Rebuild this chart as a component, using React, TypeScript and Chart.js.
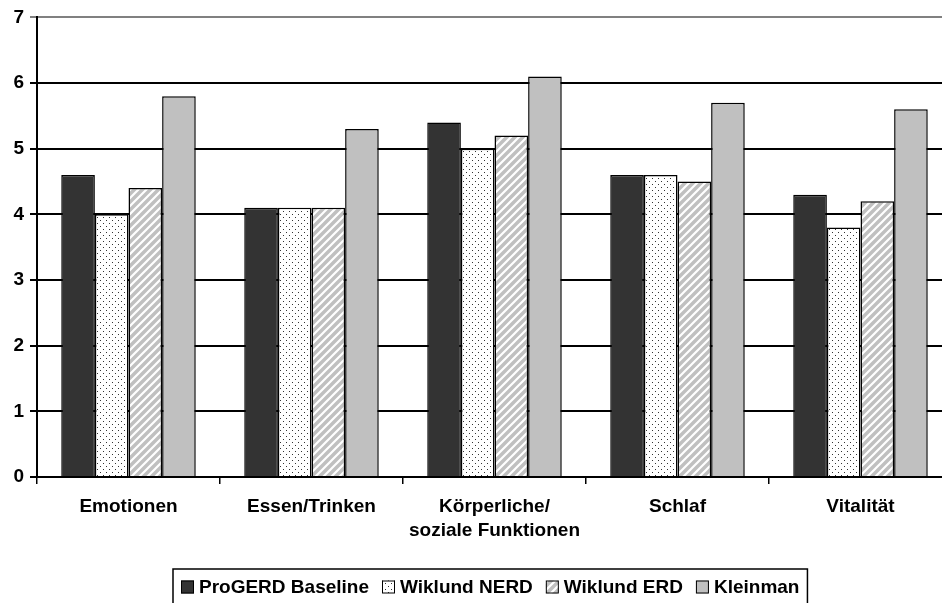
import React, { useEffect, useRef } from "react";
import { Chart, registerables } from "chart.js";

Chart.register(...registerables);

const categories: (string | string[])[] = [
  "Emotionen",
  "Essen/Trinken",
  ["Körperliche/", "soziale Funktionen"],
  "Schlaf",
  "Vitalität",
];
const seriesNames = ["ProGERD Baseline", "Wiklund NERD", "Wiklund ERD", "Kleinman"];
const progerd = [4.6, 4.1, 5.4, 4.6, 4.3];
const wiklundNerd = [4.0, 4.1, 5.0, 4.6, 3.8];
const wiklundErd = [4.4, 4.1, 5.2, 4.5, 4.2];
const kleinman = [5.8, 5.3, 6.1, 5.7, 5.6];
const yTicks = [0, 1, 2, 3, 4, 5, 6, 7];

const FONT = "'Liberation Sans', Arial, sans-serif";
const CANVAS_W = 952;
const CANVAS_H = 603;

function dotPattern(): CanvasPattern | string {
  const c = document.createElement("canvas");
  c.width = 6;
  c.height = 6;
  const g = c.getContext("2d")!;
  g.fillStyle = "#ffffff";
  g.fillRect(0, 0, 6, 6);
  g.fillStyle = "#333333";
  g.fillRect(1, 1, 1, 1);
  g.fillRect(4, 4, 1, 1);
  return g.createPattern(c, "repeat") || "#fff";
}

function hatchPattern(): CanvasPattern | string {
  const s = 8;
  const c = document.createElement("canvas");
  c.width = s;
  c.height = s;
  const g = c.getContext("2d")!;
  g.fillStyle = "#c0c0c0";
  g.fillRect(0, 0, s, s);
  g.strokeStyle = "#ffffff";
  g.lineWidth = 2.2;
  g.beginPath();
  g.moveTo(-1, s + 1);
  g.lineTo(s + 1, -1);
  g.moveTo(-1, 1);
  g.lineTo(1, -1);
  g.moveTo(s - 1, s + 1);
  g.lineTo(s + 1, s - 1);
  g.stroke();
  return g.createPattern(c, "repeat") || "#ccc";
}

export default function App() {
  const ref = useRef<HTMLCanvasElement>(null);

  useEffect(() => {
    if (!ref.current) return;
    const fills = ["#333333", dotPattern(), hatchPattern(), "#c0c0c0"];
    const values = [progerd, wiklundNerd, wiklundErd, kleinman];

    const legendPlugin = {
      id: "boxLegend",
      afterDraw(chart: any) {
        const ctx = chart.ctx as CanvasRenderingContext2D;
        ctx.save();
        ctx.font = `bold 19px ${FONT}`;
        ctx.textBaseline = "middle";
        const box = 13;
        const gapBoxText = 5;
        const gapItems = 13;
        const widths = seriesNames.map((n) => ctx.measureText(n).width);
        const total =
          widths.reduce((a, b) => a + b, 0) +
          seriesNames.length * (box + gapBoxText) +
          (seriesNames.length - 1) * gapItems;
        const padX = 8;
        const w = total + padX * 2;
        const left = 173;
        const top = 569;
        const cy = 587;
        ctx.strokeStyle = "#000";
        ctx.lineWidth = 1.5;
        ctx.strokeRect(left, top, w, 40);
        let x = left + padX;
        seriesNames.forEach((n, i) => {
          ctx.fillStyle = fills[i] as any;
          ctx.fillRect(x, cy - box / 2, box, box);
          ctx.lineWidth = 1;
          ctx.strokeRect(x + 0.5, cy - box / 2 + 0.5, box - 1, box - 1);
          x += box + gapBoxText;
          ctx.fillStyle = "#000";
          ctx.fillText(n, x, cy + 1);
          x += widths[i] + gapItems;
        });
        ctx.restore();
      },
    };

    const chart = new Chart(ref.current, {
      type: "bar",
      data: {
        labels: categories,
        datasets: seriesNames.map((name, i) => ({
          label: name,
          data: values[i],
          backgroundColor: fills[i] as any,
          borderColor: "#000000",
          borderWidth: 1.5,
          barPercentage: 1,
          categoryPercentage: 0.735,
        })),
      },
      options: {
        responsive: false,
        animation: false,
        layout: { padding: { top: 15, left: 0, right: 0, bottom: 0 } },
        plugins: {
          legend: { display: false },
          tooltip: { enabled: false },
        },
        scales: {
          x: {
            grid: {
              offset: true,
              drawOnChartArea: false,
              drawTicks: true,
              tickLength: 7,
              color: "#000",
              lineWidth: 1.5,
            },
            border: { color: "#000", width: 2 },
            ticks: {
              color: "#000",
              font: { family: FONT, size: 19, weight: "bold", lineHeight: 1.26 },
              padding: 11,
              maxRotation: 0,
              autoSkip: false,
            },
            afterFit(scale: any) {
              scale.height = 126;
            },
          },
          y: {
            min: 0,
            max: 7,
            afterBuildTicks(scale: any) {
              scale.ticks = yTicks.map((v) => ({ value: v }));
            },
            grid: {
              color: (c: any) => (c.tick && c.tick.value === 7 ? "#808080" : "#000"),
              lineWidth: 2,
              tickLength: 7,
            },
            border: { color: "#000", width: 2 },
            ticks: {
              color: "#000",
              font: { family: FONT, size: 19, weight: "bold" },
              padding: 6,
            },
            afterFit(scale: any) {
              scale.width = 37;
            },
          },
        },
      },
      plugins: [legendPlugin],
    });
    return () => chart.destroy();
  }, []);

  return (
    <div
      style={{
        position: "fixed",
        left: 0,
        top: 0,
        width: 942,
        height: 603,
        overflow: "hidden",
        background: "#fff",
      }}
    >
      <canvas ref={ref} width={CANVAS_W} height={CANVAS_H} style={{ display: "block" }} />
    </div>
  );
}
